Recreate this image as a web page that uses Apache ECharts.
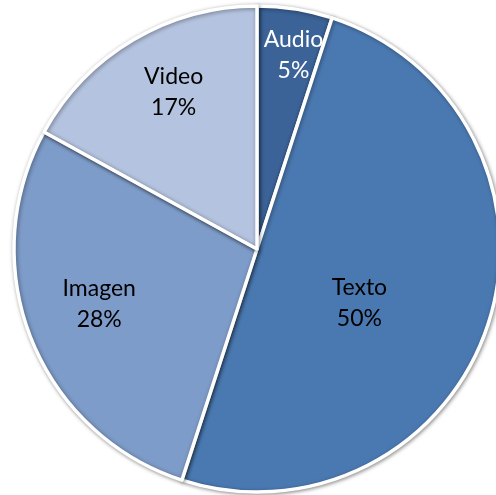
<!DOCTYPE html>
<html>
<head>
<meta charset="utf-8">
<script src="https://cdn.jsdelivr.net/npm/echarts@6/dist/echarts.min.js"></script>
<style>html,body{margin:0;padding:0;background:#fff;}#c{width:496px;height:495px;}</style>
</head>
<body>
<div id="c"></div>
<script>
var categories = ['Audio', 'Texto', 'Imagen', 'Video'];
var values = [5, 50, 28, 17];
var colors = ['#3B6398', '#4A79B1', '#7E9CC9', '#B4C3DF'];
var labelColors = ['#ffffff', '#000000', '#000000', '#000000'];
var labelOffsets = [[17, -71], [-16, 16], [-42, 9], [-20, -50]];

var chart = echarts.init(document.getElementById('c'), null, {renderer: 'canvas'});
var data = categories.map(function (c, i) {
  return {
    name: c,
    value: values[i],
    itemStyle: {color: colors[i]},
    label: {color: labelColors[i], offset: labelOffsets[i]}
  };
});
chart.setOption({
  animation: false,
  series: [{
    type: 'pie',
    center: [257, 249],
    radius: [0, 243],
    startAngle: 90,
    clockwise: true,
    data: data,
    itemStyle: {
      borderColor: '#ffffff',
      borderWidth: 3.5,
      shadowColor: 'rgba(0,0,0,0.4)',
      shadowBlur: 4,
      shadowOffsetX: 1,
      shadowOffsetY: 1
    },
    label: {
      show: true,
      position: 'inside',
      fontFamily: 'Lato',
      fontSize: 23,
      lineHeight: 31,
      formatter: function (p) { return p.name + '\n' + Math.round(p.percent) + '%'; }
    },
    labelLine: {show: false}
  }]
});
</script>
</body>
</html>
